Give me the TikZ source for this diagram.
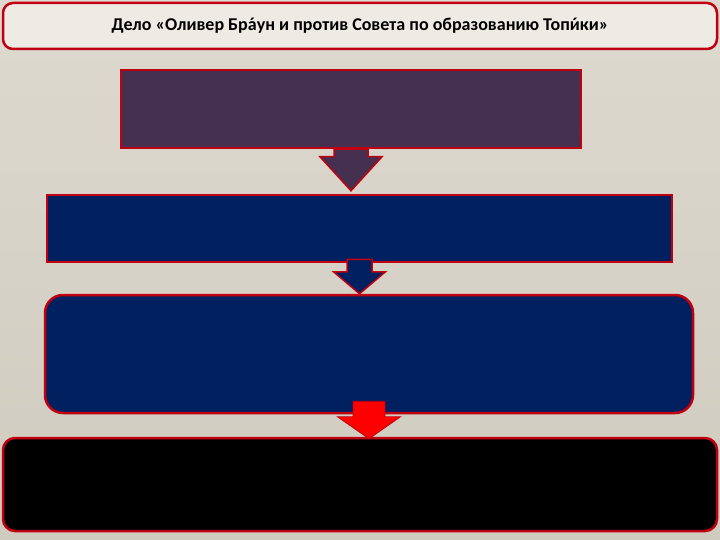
\documentclass[tikz,border=0pt]{standalone}
\usepackage{fontspec}
\setmainfont{Carlito}
\usetikzlibrary{calc}

\definecolor{bgtop}{HTML}{DDD9CF}
\definecolor{bgbot}{HTML}{CFCBBF}
\definecolor{edgered}{HTML}{C00010}
\definecolor{titlefill}{HTML}{EEEBE4}
\definecolor{plum}{HTML}{45314F}
\definecolor{navy}{HTML}{002060}
\definecolor{hotred}{HTML}{FF0000}

% stress mark over a letter (Carlito has no combining acute)
\newcommand{\stress}[1]{\ooalign{#1\cr\hidewidth\char"00B4\hidewidth\cr}}

% block arrow: style, start, tip, stem half width, head half width, head length
\newcommand{\blockarrow}[6]{%
  \draw[#1] ($(#2)+(-#4,0)$) -- ($(#3)+(-#4,-#6)$) -- ($(#3)+(-#5,-#6)$)
    -- (#3) -- ($(#3)+(#5,-#6)$) -- ($(#3)+(#4,-#6)$) -- ($(#2)+(#4,0)$) -- cycle;}

\tikzset{
  box/.style={draw=edgered, line width=2.5pt, inner sep=0pt},
  arrowblk/.style={draw=edgered, line width=1.5pt, line join=miter},
}

\begin{document}
\begin{tikzpicture}[x=1pt, y=-1pt]

\useasboundingbox (0,0) rectangle (720,540);
\shade[top color=bgtop, bottom color=bgbot] (0,0) rectangle (720,540);

% title
\node[box, fill=titlefill, rounded corners=10pt, minimum width=714pt, minimum height=46pt,
  font=\bfseries\fontsize{18}{20}\selectfont] (title) at (360,26)
  {Дело «Оливер Бр\stress{а}ун и против Совета по образованию Топ\stress{и}ки»};

% boxes
\node[box, fill=plum, minimum width=460pt, minimum height=78pt] (top) at (351,109) {};
\node[box, fill=navy, minimum width=625pt, minimum height=67pt] (wide) at (359.5,228.5) {};
\node[box, fill=navy, rounded corners=18pt, minimum width=648pt, minimum height=118pt] (round) at (369,354) {};
\node[box, fill=black, rounded corners=12pt, minimum width=714pt, minimum height=93pt] (bottom) at (360,484.5) {};

% arrows
\coordinate (a1s) at (top.south);
\coordinate (a1e) at ($(top.south |- wide.north)+(0,-3)$);
\blockarrow{arrowblk, fill=plum}{a1s}{a1e}{17}{31}{34}

\coordinate (a2s) at ($(wide.south)+(0,-4)$);
\coordinate (a2e) at (wide.south |- round.north);
\blockarrow{arrowblk, fill=navy}{a2s}{a2e}{12.5}{26}{22}

\coordinate (a3s) at ($(round.south)+(0,-13)$);
\coordinate (a3e) at ($(round.south |- bottom.north)+(0,2)$);
\blockarrow{draw=edgered, line width=0.8pt, fill=hotred}{a3s}{a3e}{16}{31.5}{22}

\end{tikzpicture}
\end{document}
